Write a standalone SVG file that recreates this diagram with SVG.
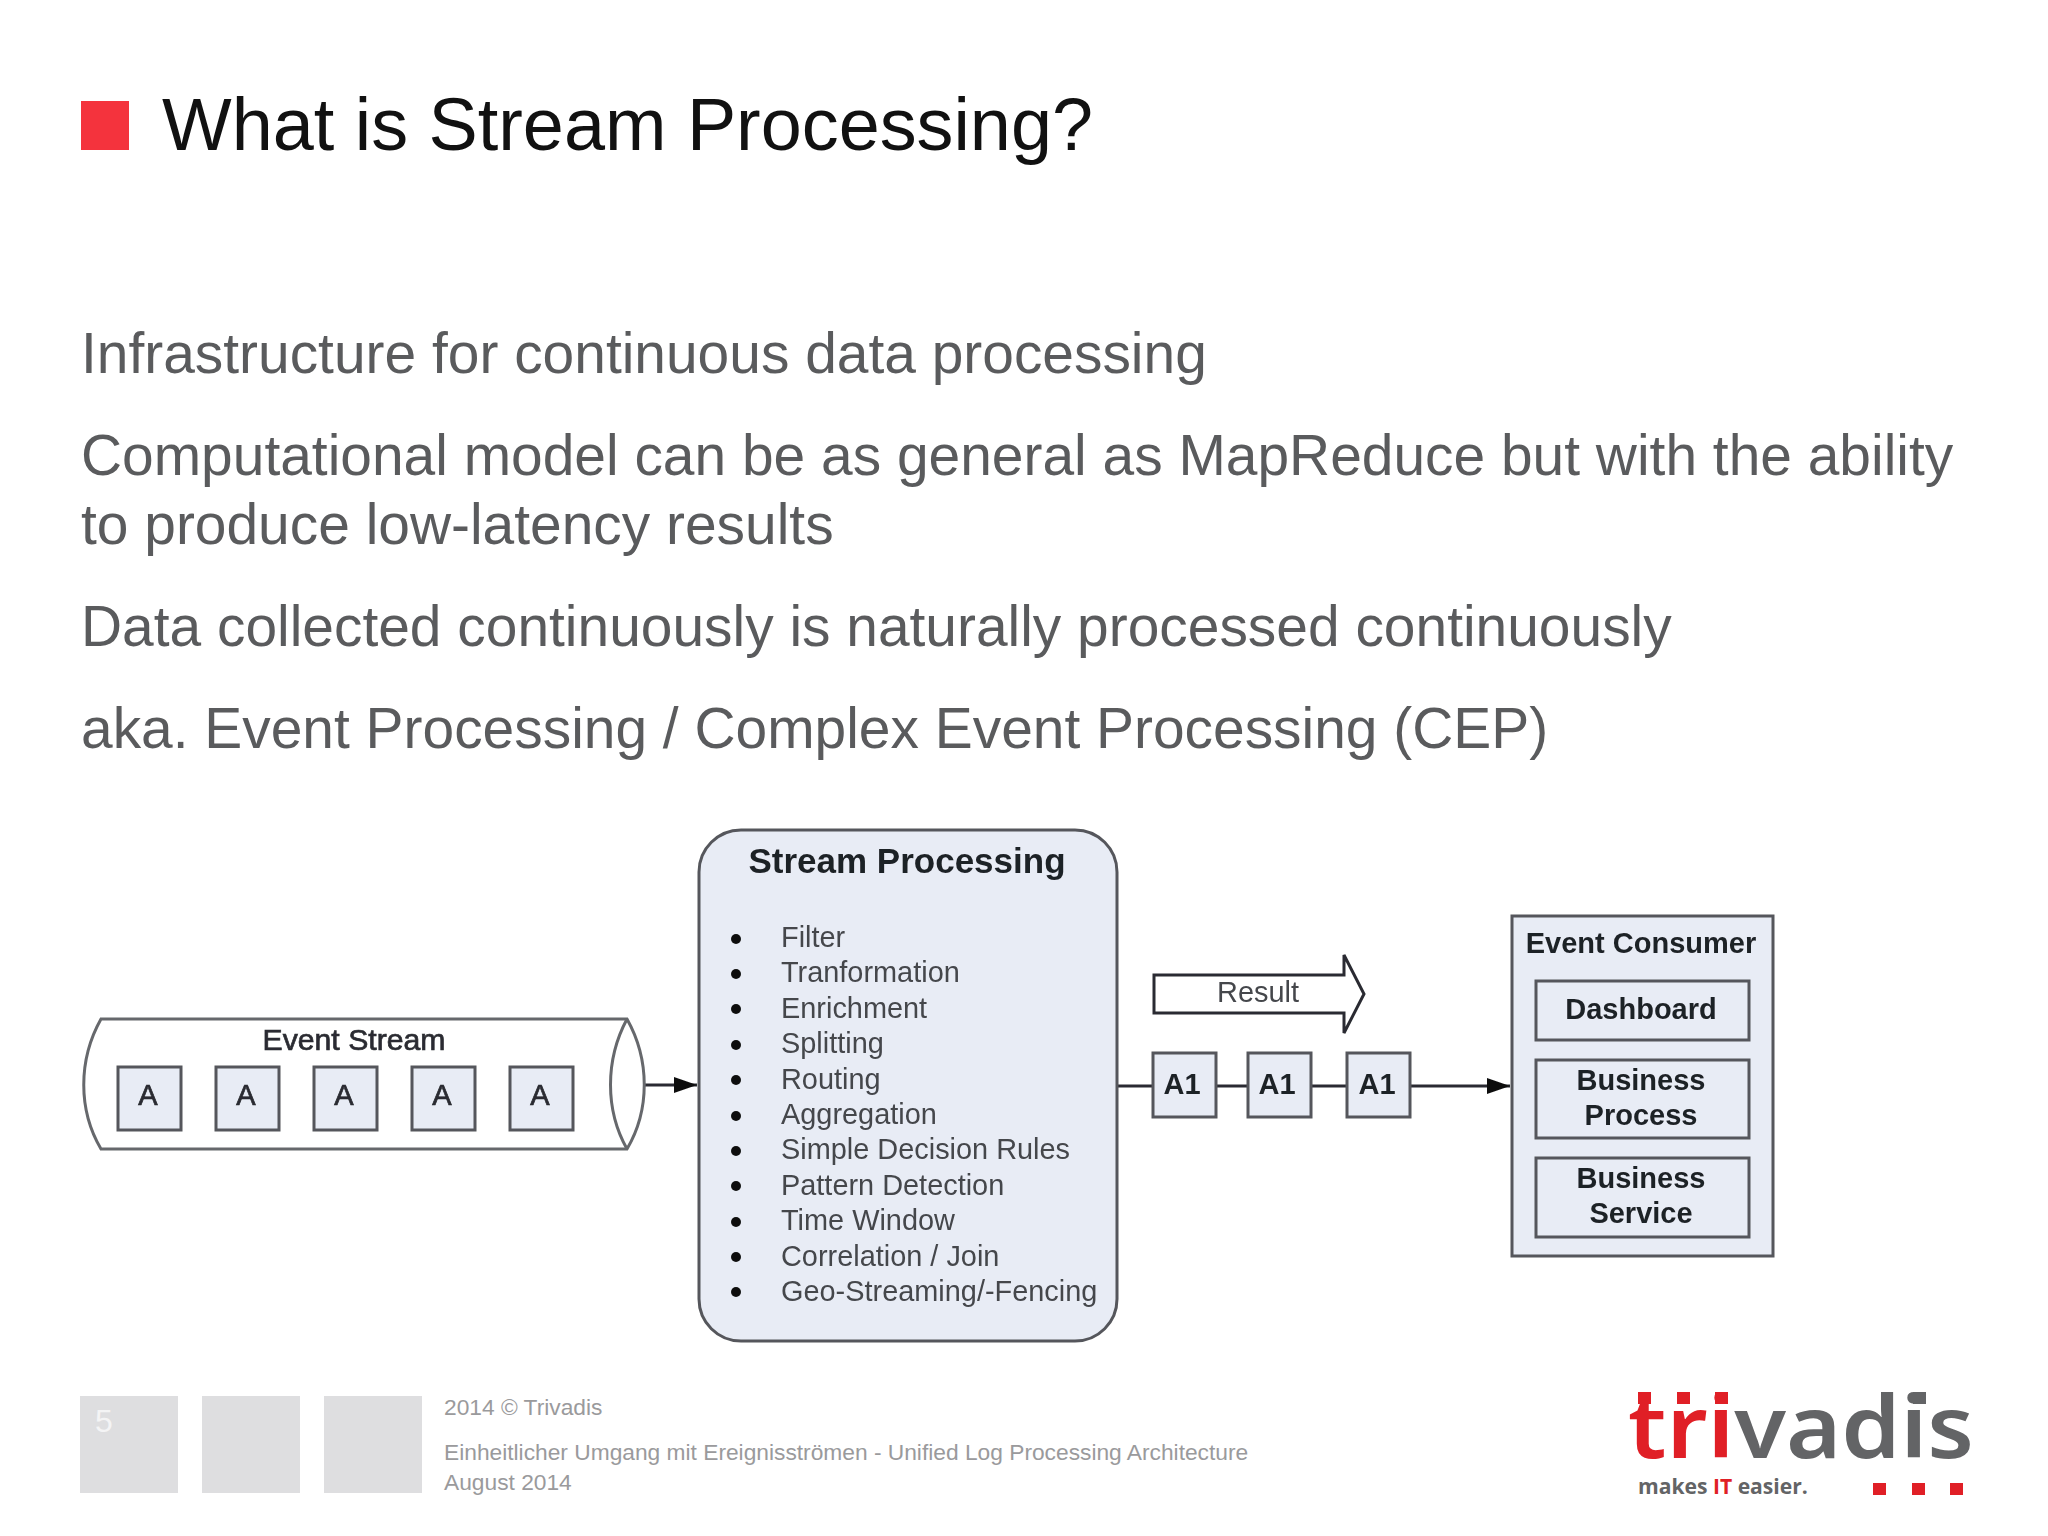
<svg xmlns="http://www.w3.org/2000/svg" width="2048" height="1536" viewBox="0 0 2048 1536">
<style>
text{font-family:"Liberation Sans",Arial,sans-serif}
.body{font-size:56.9px;fill:#5a5b5d}
.n{font-size:29px;fill:#2a2c31;stroke:#2a2c31;stroke-width:.7}
.c{text-anchor:middle}
.b{font-weight:700;font-size:29px;fill:#1f2126}
.li{font-size:28.9px;fill:#45474c}
.box{fill:#e8ecf5;stroke:#55575b;stroke-width:3}
.ln{fill:none;stroke:#2a2c31;stroke-width:3}
.tube{fill:#fff;stroke:#66686c;stroke-width:3}
.foot{font-size:22.76px;fill:#9a9a9c}
.sq{fill:#dedee0}
.rd{fill:#e01f26}
.gr{fill:#636466}
.logo{font-family:"Noto Sans","Open Sans",sans-serif;font-weight:600;font-size:87px;fill:#636466}
.tag{font-family:"Open Sans","Noto Sans",sans-serif;font-weight:700;font-size:21.1px;fill:#636466}
</style>
<defs>
<marker id="ah" markerUnits="userSpaceOnUse" markerWidth="24" markerHeight="18" refX="23" refY="8" orient="auto"><path d="M0 0L23 8L0 16z" fill="#111"/></marker>
<filter id="soft" x="-5%" y="-5%" width="110%" height="110%"><feGaussianBlur stdDeviation="0.6"/></filter>
</defs>
<rect width="2048" height="1536" fill="#fff"/>
<g id="title"><rect x="81" y="101" width="48" height="49" fill="#f4333d"/><text x="162" y="150" font-size="73.8" fill="#111">What is Stream Processing?</text></g>
<g id="body">
<text class="body" x="81" y="373">Infrastructure for continuous data processing</text>
<text class="body" x="81" y="475">Computational model can be as general as MapReduce but with the ability</text>
<text class="body" x="81" y="544">to produce low-latency results</text>
<text class="body" x="81" y="646">Data collected continuously is naturally processed continuously</text>
<text class="body" x="81" y="748">aka. Event Processing / Complex Event Processing (CEP)</text>
</g>
<g id="diagram" filter="url(#soft)">
<g id="connectors">
<path class="ln" d="M644 1085H697" marker-end="url(#ah)"/>
<path class="ln" d="M1117 1086H1510" marker-end="url(#ah)"/>
</g>
<g id="event-stream">
<path class="tube" d="M101 1019H627C650 1060 650 1110 627 1149H101C78 1110 78 1060 101 1019z"/>
<path class="tube" d="M627 1019C605 1060 605 1110 627 1149" fill="none"/>
<text class="n c" x="354" y="1050" style="font-size:30.2px">Event Stream</text>
<g id="a1"><rect class="box" x="118" y="1067" width="63" height="63"/><text class="n c" x="148" y="1105">A</text></g>
<g id="a2"><rect class="box" x="216" y="1067" width="63" height="63"/><text class="n c" x="246" y="1105">A</text></g>
<g id="a3"><rect class="box" x="314" y="1067" width="63" height="63"/><text class="n c" x="344" y="1105">A</text></g>
<g id="a4"><rect class="box" x="412" y="1067" width="63" height="63"/><text class="n c" x="442" y="1105">A</text></g>
<g id="a5"><rect class="box" x="510" y="1067" width="63" height="63"/><text class="n c" x="540" y="1105">A</text></g>
</g>
<g id="stream-processing">
<rect class="box" x="699" y="830" width="418" height="511" rx="42"/>
<text class="b c" x="907" y="873" style="font-size:35px">Stream Processing</text>
<g fill="#111"><circle cx="736" cy="939" r="5"/><circle cx="736" cy="974" r="5"/><circle cx="736" cy="1009" r="5"/><circle cx="736" cy="1045" r="5"/><circle cx="736" cy="1080" r="5"/><circle cx="736" cy="1116" r="5"/><circle cx="736" cy="1151" r="5"/><circle cx="736" cy="1186" r="5"/><circle cx="736" cy="1222" r="5"/><circle cx="736" cy="1257" r="5"/><circle cx="736" cy="1292" r="5"/></g>
<text class="li" x="781" y="947">Filter</text>
<text class="li" x="781" y="982">Tranformation</text>
<text class="li" x="781" y="1018">Enrichment</text>
<text class="li" x="781" y="1053">Splitting</text>
<text class="li" x="781" y="1089">Routing</text>
<text class="li" x="781" y="1124">Aggregation</text>
<text class="li" x="781" y="1159">Simple Decision Rules</text>
<text class="li" x="781" y="1195">Pattern Detection</text>
<text class="li" x="781" y="1230">Time Window</text>
<text class="li" x="781" y="1266">Correlation / Join</text>
<text class="li" x="781" y="1301">Geo-Streaming/-Fencing</text>
</g>
<g id="result"><path d="M1154 975H1344V955L1364 994L1344 1033V1013H1154z" fill="#fff" stroke="#2a2c31" stroke-width="3"/><text class="li c" x="1258" y="1002">Result</text></g>
<g id="r1"><rect class="box" x="1153" y="1053" width="63" height="64"/><text class="b c" x="1182" y="1094">A1</text></g>
<g id="r2"><rect class="box" x="1248" y="1053" width="63" height="64"/><text class="b c" x="1277" y="1094">A1</text></g>
<g id="r3"><rect class="box" x="1347" y="1053" width="63" height="64"/><text class="b c" x="1377" y="1094">A1</text></g>
<g id="event-consumer">
<rect class="box" x="1512" y="916" width="261" height="340"/>
<text class="b c" x="1641" y="953">Event Consumer</text>
<rect class="box" x="1536" y="981" width="213" height="59"/><text class="b c" x="1641" y="1019">Dashboard</text>
<rect class="box" x="1536" y="1060" width="213" height="78"/><text class="b c" x="1641" y="1090">Business</text><text class="b c" x="1641" y="1125">Process</text>
<rect class="box" x="1536" y="1158" width="213" height="79"/><text class="b c" x="1641" y="1188">Business</text><text class="b c" x="1641" y="1223">Service</text>
</g>
</g>
<g id="footer">
<rect class="sq" x="80" y="1396" width="98" height="97"/><rect class="sq" x="202" y="1396" width="98" height="97"/><rect class="sq" x="324" y="1396" width="98" height="97"/>
<text x="95" y="1432" font-size="32" fill="#f4f4f5">5</text>
<text class="foot" x="444" y="1415">2014 © Trivadis</text>
<text class="foot" x="444" y="1460">Einheitlicher Umgang mit Ereignisströmen - Unified Log Processing Architecture</text>
<text class="foot" x="444" y="1490">August 2014</text>
</g>
<g id="logo">
<text class="logo" x="1628" y="1458" textLength="346" lengthAdjust="spacingAndGlyphs"><tspan class="rd">tri</tspan>vadis</text>
<rect class="rd" x="1638" y="1392" width="13" height="12"/><rect class="rd" x="1677" y="1392" width="13" height="12"/><rect class="rd" x="1715" y="1392" width="13" height="12"/><rect class="gr" x="1913" y="1392" width="13" height="12"/>
<text class="tag" x="1638" y="1494">makes <tspan fill="#e01f26">IT</tspan> easier.</text>
<rect class="rd" x="1873" y="1483" width="13" height="12"/><rect class="rd" x="1912" y="1483" width="13" height="12"/><rect class="rd" x="1950" y="1483" width="13" height="12"/>
</g>
</svg>
